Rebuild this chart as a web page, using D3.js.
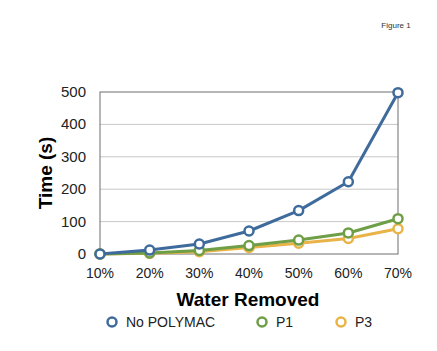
<!DOCTYPE html>
<html>
<head>
<meta charset="utf-8">
<script src="https://cdn.jsdelivr.net/npm/d3@7"></script>
<style>
  body { margin: 0; background: #fff; }
  svg { display: block; font-family: "Liberation Sans", Arial, sans-serif; }
</style>
</head>
<body>
<svg id="chart" width="437" height="351"></svg>
<script>
const CATEGORIES = ["10%", "20%", "30%", "40%", "50%", "60%", "70%"];
const NO_POLYMAC = [0, 12, 31, 71, 134, 223, 498];
const P1 = [0, 3, 11, 26, 43, 65, 109];
const P3 = [0, 2, 7, 20, 33, 48, 78];
const Y_TICKS = [0, 100, 200, 300, 400, 500];

const SERIES = [
  { name: "No POLYMAC", values: NO_POLYMAC, color: "#3f6b9c" },
  { name: "P1", values: P1, color: "#6e9e45" },
  { name: "P3", values: P3, color: "#e9b347" }
];

const svg = d3.select("#chart");
const plotL = 100, plotR = 398, plotT = 92, plotB = 254;

const x = d3.scalePoint().domain(CATEGORIES).range([plotL, plotR]);
const y = d3.scaleLinear().domain([0, 500]).range([plotB, plotT]);

// grid
svg.append("g")
  .selectAll("line")
  .data(Y_TICKS.slice(1, -1))
  .join("line")
  .attr("x1", plotL).attr("x2", plotR)
  .attr("y1", d => y(d)).attr("y2", d => y(d))
  .attr("stroke", "#c8c8c8").attr("stroke-width", 1);

// frame
svg.append("rect")
  .attr("x", plotL).attr("y", plotT)
  .attr("width", plotR - plotL).attr("height", plotB - plotT)
  .attr("fill", "none").attr("stroke", "#6f6f6f").attr("stroke-width", 1);

// y tick labels
svg.append("g")
  .selectAll("text")
  .data(Y_TICKS)
  .join("text")
  .attr("x", plotL - 14)
  .attr("y", d => y(d) + 5)
  .attr("text-anchor", "end")
  .style("font-size", "15px")
  .style("fill", "#222")
  .text(d => d);

// x tick labels
svg.append("g")
  .selectAll("text")
  .data(CATEGORIES)
  .join("text")
  .attr("x", d => x(d))
  .attr("y", 278)
  .attr("text-anchor", "middle")
  .style("font-size", "14px")
  .style("fill", "#222")
  .text(d => d);

// axis titles
svg.append("text")
  .attr("x", 248).attr("y", 306)
  .attr("text-anchor", "middle")
  .style("font-size", "19px").style("font-weight", "bold")
  .text("Water Removed");

svg.append("text")
  .attr("transform", "translate(52,173) rotate(-90)")
  .attr("text-anchor", "middle")
  .style("font-size", "19px").style("font-weight", "bold")
  .text("Time (s)");

svg.append("text")
  .attr("x", 396).attr("y", 28)
  .attr("text-anchor", "middle")
  .style("font-size", "8px").style("fill", "#333")
  .text("Figure 1");

// lines & markers (draw back-to-front: P3, P1, No POLYMAC)
const line = d3.line()
  .x((d, i) => x(CATEGORIES[i]))
  .y(d => y(d));

SERIES.slice().reverse().forEach(s => {
  const g = svg.append("g");
  g.append("path")
    .attr("d", line(s.values))
    .attr("fill", "none")
    .attr("stroke", s.color)
    .attr("stroke-width", 3)
    .attr("stroke-linejoin", "round");
  g.selectAll("circle")
    .data(s.values)
    .join("circle")
    .attr("cx", (d, i) => x(CATEGORIES[i]))
    .attr("cy", d => y(d))
    .attr("r", 4.5)
    .attr("fill", "#fff")
    .attr("stroke", s.color)
    .attr("stroke-width", 2.5);
});

// legend
const LEGEND_X = [112, 262, 341];
const legend = svg.append("g");
SERIES.forEach((s, i) => {
  const row = legend.append("g").attr("transform", `translate(${LEGEND_X[i]},322)`);
  row.append("circle")
    .attr("r", 4.5)
    .attr("fill", "#fff")
    .attr("stroke", s.color)
    .attr("stroke-width", 2.5);
  row.append("text")
    .attr("x", 14).attr("y", 5)
    .style("font-size", "14px")
    .style("fill", "#222")
    .text(s.name);
});
</script>
</body>
</html>
